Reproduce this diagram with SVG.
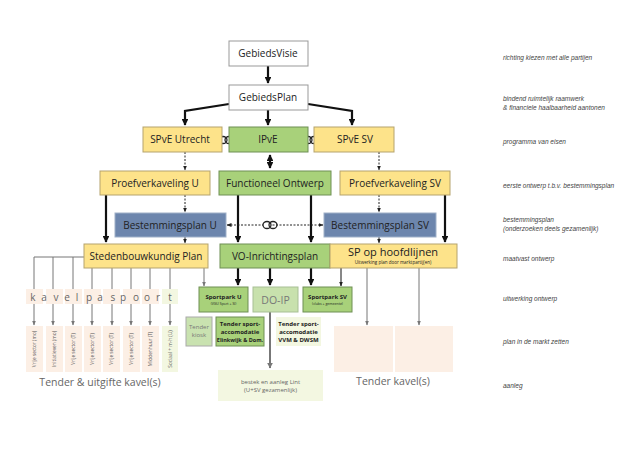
<svg xmlns="http://www.w3.org/2000/svg" width="636" height="449" viewBox="0 0 636 449">
<style>
text{font-family:"Open Sans","Liberation Sans",sans-serif;}
.w{fill:#fff;stroke:#999;stroke-width:1}
.y{fill:#fde38a;stroke:#b5a36e;stroke-width:1}
.g{fill:#a8d17a;stroke:#6f8f55;stroke-width:1}
.b{fill:#6d86ad;stroke:#9fb0c8;stroke-width:1}
.pk{fill:#fcefe5}
.pg{fill:#f3f7e1}
.t{font-size:10px;fill:#222;text-anchor:middle}
.ts{font-size:4.5px;fill:#222;text-anchor:middle}
.n{font-size:6px;fill:#222;text-anchor:middle}
.r{font-family:"Liberation Sans",sans-serif;font-size:6.5px;font-style:italic;fill:#444}
.k{font-size:10.5px;fill:#666;text-anchor:middle}
.v{font-size:4.8px;fill:#555;text-anchor:middle}
.thick{stroke:#111;stroke-width:2.2;fill:none}
.dot{stroke:#222;stroke-width:1;stroke-dasharray:2,1.5;fill:none}
.gray{stroke:#777;stroke-width:1;fill:none}
.chain{fill:none;stroke:#222;stroke-width:1.3}
</style>
<defs>
<marker id="ab" viewBox="0 0 10 10" refX="9" refY="5" markerWidth="3" markerHeight="3" orient="auto-start-reverse"><path d="M0,0L10,5L0,10z" fill="#111"/></marker>
<marker id="as" viewBox="0 0 10 10" refX="9" refY="5" markerWidth="5" markerHeight="5" orient="auto-start-reverse"><path d="M0,1L10,5L0,9z" fill="#222"/></marker>
<marker id="ag" viewBox="0 0 10 10" refX="9" refY="5" markerWidth="5" markerHeight="5" orient="auto"><path d="M0,1L10,5L0,9z" fill="#777"/></marker>
<marker id="agt" viewBox="0 0 10 10" refX="9" refY="5" markerWidth="3" markerHeight="3" orient="auto"><path d="M0,0L10,5L0,10z" fill="#777"/></marker>
</defs>
<rect width="636" height="449" fill="#fff"/>
<g id="connectors">
<path class="thick" d="M268,66V83" marker-end="url(#ab)"/>
<path class="thick" d="M229,104L185,111V125" marker-end="url(#ab)"/>
<path class="thick" d="M268,110V125" marker-end="url(#ab)"/>
<path class="thick" d="M308,104L352,111V125" marker-end="url(#ab)"/>
<path class="thick" d="M270,155V168" marker-start="url(#ab)" marker-end="url(#ab)"/>
<path class="dot" d="M185,152V170" marker-end="url(#as)"/>
<path class="dot" d="M379,152V170" marker-end="url(#as)"/>
<path class="dot" d="M185,195V212" marker-end="url(#as)"/>
<path class="dot" d="M379,195V212" marker-end="url(#as)"/>
<path class="dot" d="M185,237V243" marker-end="url(#as)"/>
<path class="dot" d="M379,237V243" marker-end="url(#as)"/>
<path class="thick" d="M106,195V242" marker-end="url(#ab)"/>
<path class="thick" d="M445,195V242" marker-end="url(#ab)"/>
<path class="thick" d="M238,195V242" marker-end="url(#ab)"/>
<path class="thick" d="M311,195V242" marker-end="url(#ab)"/>
<path class="dot" d="M227,225H323" marker-start="url(#as)" marker-end="url(#as)"/>
<path class="thick" d="M238,268V285" marker-end="url(#ab)"/>
<path class="thick" d="M270,268V285" marker-end="url(#ab)"/>
<path class="thick" d="M311,268V285" marker-end="url(#ab)"/>
<path stroke="#111" stroke-width="1" d="M341,268V286" marker-end="url(#as)"/>
<path class="gray" d="M204,268V286" marker-end="url(#ag)"/>
<path class="gray" d="M367,268V325" marker-end="url(#ag)"/>
<path class="gray" d="M419,268V325" marker-end="url(#ag)"/>
<path stroke="#777" stroke-width="2" d="M270,312V368" marker-end="url(#agt)"/>
<path class="gray" d="M84,257H34"/>
<path class="gray" d="M34,257V325" marker-end="url(#ag)"/>
<path class="gray" d="M53,257V325" marker-end="url(#ag)"/>
<path class="gray" d="M73,257V325" marker-end="url(#ag)"/>
<path class="gray" d="M92,268V325" marker-end="url(#ag)"/>
<path class="gray" d="M112,268V325" marker-end="url(#ag)"/>
<path class="gray" d="M131,268V325" marker-end="url(#ag)"/>
<path class="gray" d="M150,268V325" marker-end="url(#ag)"/>
<path class="gray" d="M170,268V325" marker-end="url(#ag)"/>
<g class="chain">
<ellipse cx="223" cy="140" rx="4" ry="3.5" fill="#fff"/><ellipse cx="229" cy="140" rx="4" ry="3.5"/>
<ellipse cx="308" cy="140" rx="4" ry="3.5" fill="#fff"/><ellipse cx="314" cy="140" rx="4" ry="3.5"/>
<ellipse cx="267" cy="225" rx="4" ry="3.5" fill="#fff"/><ellipse cx="273" cy="225" rx="4" ry="3.5"/>
</g>
</g>
<g id="gebiedsvisie"><rect class="w" x="229" y="41" width="79" height="25"/><text class="t" x="268" y="57">GebiedsVisie</text></g>
<g id="gebiedsplan"><rect class="w" x="229" y="85" width="79" height="25"/><text class="t" x="268" y="101">GebiedsPlan</text></g>
<g id="spve-u"><rect class="y" x="143" y="127" width="79" height="25"/><text class="t" x="180" y="143">SPvE Utrecht</text></g>
<g id="ipve"><rect class="g" x="229" y="127" width="79" height="25"/><text class="t" x="268" y="143">IPvE</text></g>
<g id="spve-sv"><rect class="y" x="314" y="127" width="80" height="25"/><text class="t" x="355" y="143">SPvE SV</text></g>
<g id="proef-u"><rect class="y" x="100" y="171" width="110" height="24"/><text class="t" x="155" y="187">Proefverkaveling U</text></g>
<g id="functioneel"><rect class="g" x="219" y="171" width="112" height="24"/><text class="t" x="275" y="187">Functioneel Ontwerp</text></g>
<g id="proef-sv"><rect class="y" x="340" y="171" width="110" height="24"/><text class="t" x="395" y="187">Proefverkaveling SV</text></g>
<g id="bp-u"><rect class="b" x="115" y="213" width="111" height="24"/><text class="t" x="170" y="229">Bestemmingsplan U</text></g>
<g id="bp-sv"><rect class="b" x="324" y="213" width="112" height="24"/><text class="t" x="380" y="229">Bestemmingsplan SV</text></g>
<g id="stedenbouw"><rect class="y" x="84" y="244" width="124" height="24"/><text class="t" x="146" y="260">Stedenbouwkundig Plan</text></g>
<g id="vo"><rect class="g" x="220" y="244" width="110" height="24"/><text class="t" x="275" y="260">VO-Inrichtingsplan</text></g>
<g id="sp-hoofd"><rect class="y" x="330" y="244" width="127" height="24"/><text class="t" x="393" y="256" style="font-size:11px">SP op hoofdlijnen</text><text class="ts" x="393" y="264">Uitwerking plan door marktpartij(en)</text></g>
<g id="sportpark-u"><rect class="g" x="199" y="287" width="49" height="25"/><text class="n" x="223.5" y="299" font-weight="bold">Sportpark U</text><text class="ts" x="223.5" y="305" style="font-size:3.5px">(VGU Sport + SI)</text></g>
<g id="do-ip"><rect x="253" y="287" width="45" height="25" fill="#c8e1ad" stroke="#a8bf95"/><text x="275.5" y="304" style="font-size:10.5px;fill:#777;text-anchor:middle">DO-IP</text></g>
<g id="sportpark-sv"><rect class="g" x="303" y="287" width="49" height="25"/><text class="n" x="327.5" y="299" font-weight="bold">Sportpark SV</text><text class="ts" x="327.5" y="305" style="font-size:3.5px">(clubs + gemeente)</text></g>
<g id="tender-kiosk"><rect x="186" y="317" width="26" height="29" fill="#c9e2b0" stroke="#aaa"/><text class="n" x="199" y="329" style="fill:#777">Tender</text><text class="n" x="199" y="337" style="fill:#777">kiosk</text></g>
<g id="tender-elink"><rect class="g" x="216" y="317" width="48" height="29" stroke="#888"/><text class="n" x="240" y="326" font-weight="bold">Tender sport-</text><text class="n" x="240" y="334" font-weight="bold">accomodatie</text><text class="n" x="240" y="342" font-weight="bold" style="font-size:5.5px">Elinkwijk &amp; Dom.</text></g>
<g id="tender-vvm"><rect class="pg" x="276" y="317" width="45" height="29"/><text class="n" x="298.5" y="326" font-weight="bold">Tender sport-</text><text class="n" x="298.5" y="334" font-weight="bold">accomodatie</text><text class="n" x="298.5" y="342" font-weight="bold">VVM &amp; DWSM</text></g>
<g id="bestek"><rect class="pg" x="218" y="370" width="105" height="31"/><text class="n" x="270.5" y="384" style="fill:#666">bestek en aanleg Lint</text><text class="n" x="270.5" y="392" style="fill:#666">(U+SV gezamenlijk)</text></g>
<g id="tender-kavel"><rect class="pk" x="334" y="326" width="59" height="46"/><rect class="pk" x="395" y="326" width="58" height="46"/><text class="k" x="393" y="385">Tender kavel(s)</text></g>
<g id="kavelpaspoort">
<rect class="pk" x="26" y="289" width="17" height="15"/><rect class="pk" x="46" y="289" width="17" height="15"/><rect class="pk" x="65" y="289" width="17" height="15"/><rect class="pk" x="84" y="289" width="17" height="15"/><rect class="pk" x="103" y="289" width="17" height="15"/><rect class="pk" x="123" y="289" width="17" height="15"/><rect class="pk" x="142" y="289" width="17" height="15"/><rect class="pg" x="162" y="289" width="16" height="15"/>
<g style="font-size:10px;fill:#666;text-anchor:middle;font-family:'Open Sans','Liberation Sans',sans-serif">
<text x="33" y="301">k</text><text x="44" y="301">a</text><text x="56" y="301">v</text><text x="67" y="301">e</text><text x="77" y="301">l</text><text x="89" y="301">p</text><text x="100" y="301">a</text><text x="113" y="301">s</text><text x="123" y="301">p</text><text x="136" y="301">o</text><text x="147" y="301">o</text><text x="158" y="301">r</text><text x="170" y="301">t</text>
</g>
</g>
<g id="kavels">
<rect class="pk" x="26" y="326" width="17" height="46"/><rect class="pk" x="46" y="326" width="17" height="46"/><rect class="pk" x="65" y="326" width="17" height="46"/><rect class="pk" x="84" y="326" width="17" height="46"/><rect class="pk" x="103" y="326" width="17" height="46"/><rect class="pk" x="123" y="326" width="17" height="46"/><rect class="pk" x="142" y="326" width="17" height="46"/><rect class="pg" x="162" y="326" width="16" height="46"/>
<text class="v" transform="translate(36,349) rotate(-90)">Vrije sector (mo)</text>
<text class="v" transform="translate(56,349) rotate(-90)">Initiatieven (mo)</text>
<text class="v" transform="translate(75,349) rotate(-90)">Vrije sector (T)</text>
<text class="v" transform="translate(94,349) rotate(-90)">Vrije sector (T)</text>
<text class="v" transform="translate(113,349) rotate(-90)">Vrije sector (T)</text>
<text class="v" transform="translate(133,349) rotate(-90)">Vrije sector (T)</text>
<text class="v" transform="translate(152,349) rotate(-90)">Middenhuur (T)</text>
<text class="v" transform="translate(172,349) rotate(-90)">Sociaal + m-h (U)</text>
<text class="k" x="100" y="386">Tender &amp; uitgifte kavel(s)</text>
</g>
<g id="labels">
<text class="r" x="503" y="60">richting kiezen met alle partijen</text>
<text class="r" x="503" y="101">bindend ruimtelijk raamwerk</text>
<text class="r" x="503" y="110">&amp; financiele haalbaarheid aantonen</text>
<text class="r" x="503" y="144">programma van eisen</text>
<text class="r" x="503" y="188">eerste ontwerp t.b.v. bestemmingsplan</text>
<text class="r" x="503" y="222">bestemmingsplan</text>
<text class="r" x="503" y="231">(onderzoeken deels gezamenlijk)</text>
<text class="r" x="503" y="261">maatvast ontwerp</text>
<text class="r" x="503" y="301">uitwerking ontwerp</text>
<text class="r" x="503" y="344">plan in de markt zetten</text>
<text class="r" x="503" y="388">aanleg</text>
</g>
</svg>
